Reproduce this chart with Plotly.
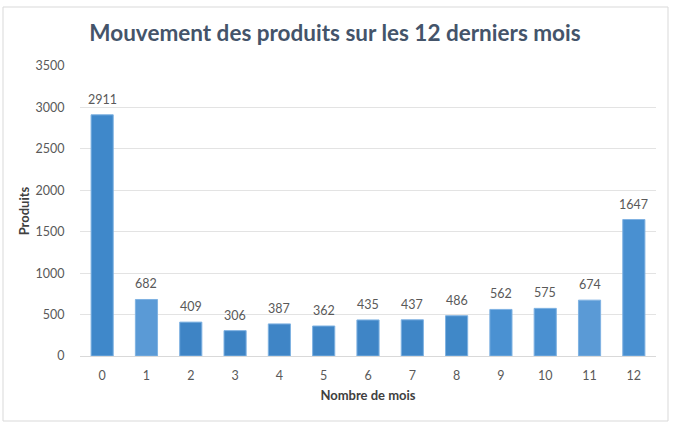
import plotly.graph_objects as go

months = ["0", "1", "2", "3", "4", "5", "6", "7", "8", "9", "10", "11", "12"]
produits = [2911, 682, 409, 306, 387, 362, 435, 437, 486, 562, 575, 674, 1647]
bar_colors = ["#3F88CA", "#5A9AD6", "#3E84C5", "#3D83C4", "#3F85C6", "#3F85C6", "#3F85C6",
              "#3F86C7", "#4088C8", "#4A91D2", "#4A90D1", "#5A9AD6", "#4990D1"]
y_ticks = [0, 500, 1000, 1500, 2000, 2500, 3000, 3500]

FONT = "Lato"

fig = go.Figure(go.Bar(
    x=months, y=produits,
    marker=dict(color=bar_colors, line=dict(color="#7FB2E2", width=1)),
    width=0.5,
    hoverinfo="x+y",
))

for m, v in zip(months, produits):
    fig.add_annotation(x=m, y=v, text=str(v), showarrow=False,
                       yanchor="bottom", yshift=6,
                       font=dict(family=FONT, size=12.5, color="#595959"))

fig.update_layout(
    width=674, height=426,
    paper_bgcolor="white", plot_bgcolor="white",
    margin=dict(l=80, r=18, t=66, b=70),
    title=dict(text="Mouvement des produits sur les 12 derniers mois",
               x=0.497, xanchor="center", y=0.922, yanchor="middle",
               font=dict(family=FONT, size=22.5, color="#44546A", weight=700)),
    showlegend=False,
    xaxis=dict(type="category",
               title=dict(text="Nombre de mois", standoff=8,
                          font=dict(family=FONT, size=13, color="#404040", weight=700)),
               tickfont=dict(family=FONT, size=12.5, color="#595959"),
               showline=True, linecolor="#D9D9D9", linewidth=1, ticks="outside", ticklen=8,
               tickcolor="rgba(0,0,0,0)", showgrid=False),
    yaxis=dict(range=[0, 3500], tickvals=y_ticks,
               title=dict(text="Produits", standoff=2,
                          font=dict(family=FONT, size=13, color="#404040", weight=700)),
               tickfont=dict(family=FONT, size=12.5, color="#595959"),
               showgrid=True, gridcolor="#E3E3E3", gridwidth=1, zeroline=False,
               ticks="outside", ticklen=12, tickcolor="rgba(0,0,0,0)"),
    bargap=0.5,
    shapes=[dict(type="rect", xref="paper", yref="paper", x0=-77/576, x1=1+12/576,
                 y0=-65/290, y1=1+59/290, line=dict(color="#D9D9D9", width=1),
                 fillcolor="rgba(0,0,0,0)")],
)

fig.write_html("out.html", config={"displayModeBar": False},
               post_script="document.body.style.margin='0';")
